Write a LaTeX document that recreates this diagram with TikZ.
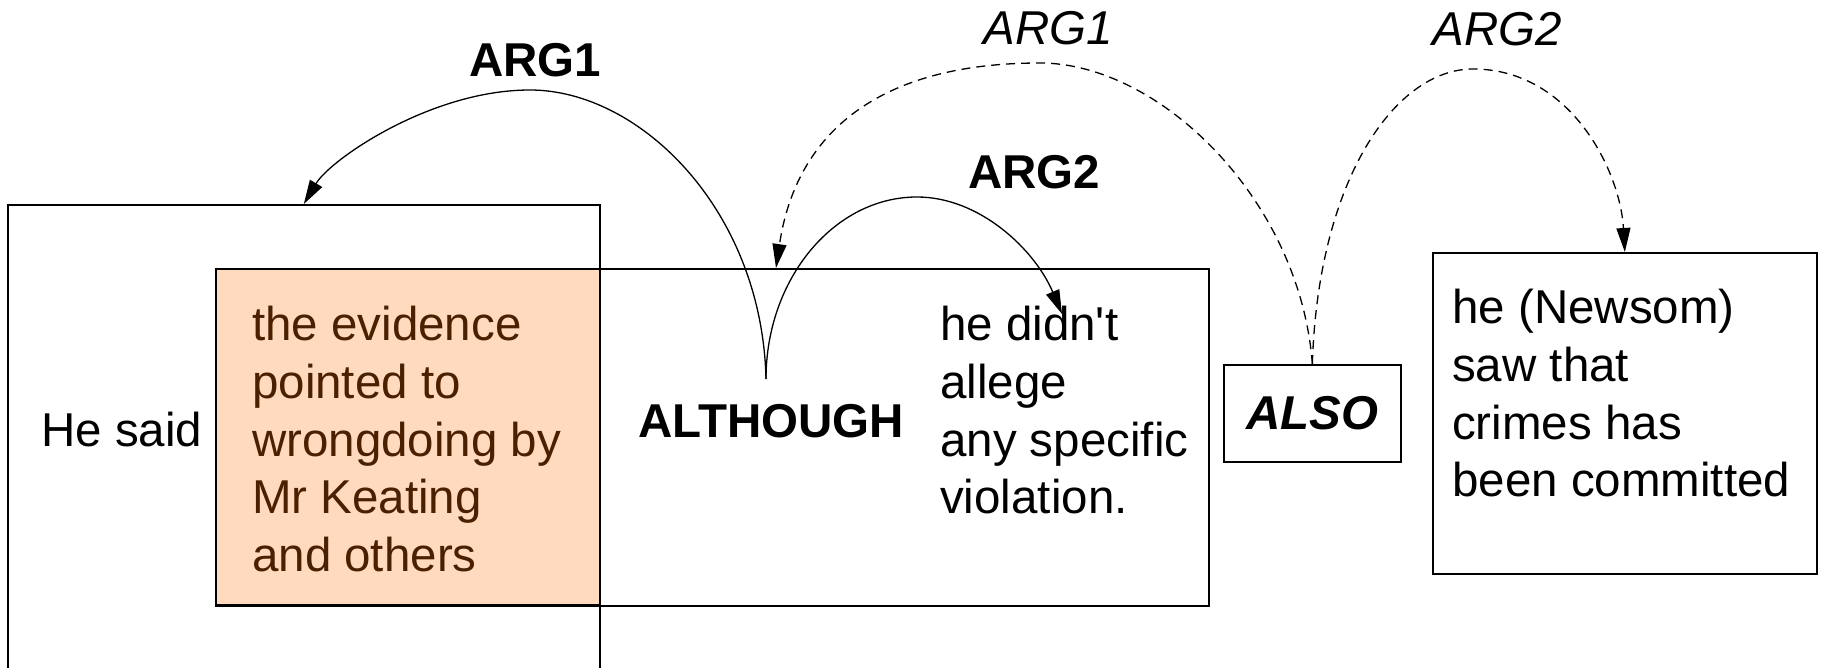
\documentclass[tikz,border=0pt]{standalone}
\usepackage{fontspec}
\setmainfont{Liberation Sans}
\usetikzlibrary{arrows.meta,calc}

\definecolor{peach}{RGB}{255,218,190}
\definecolor{brownink}{RGB}{74,32,0}

\newcommand{\bigtype}{\fontsize{47.5}{57.6}\selectfont}
\newcommand{\linestack}[1]{\begin{tabular}[t]{@{}l@{}}#1\end{tabular}}
\newcommand{\straightq}{\XeTeXglyph\XeTeXglyphindex "quotesingle"\relax}

\begin{document}
\begin{tikzpicture}[x=1pt,y=-1pt,
  every node/.style={font=\bigtype, inner sep=0pt},
  frame/.style={draw, line width=1.7pt, inner sep=0pt, anchor=north west},
  txt/.style={anchor=base west},
  lab/.style={anchor=base},
  link/.style={line width=1.3pt, -{Triangle[length=24pt,width=14pt]}},
  dlink/.style={link, dash pattern=on 9pt off 6pt}]

\useasboundingbox (0,0) rectangle (1821,668);

% clause boxes
\node[frame, minimum width=592pt, minimum height=468pt] (said) at (7,204) {};
\node[frame, minimum width=993pt, minimum height=337pt] (mid) at (215,268) {};
\node[frame, fill=peach, minimum width=384pt, minimum height=336pt] (evid) at (215,268) {};
\node[frame, minimum width=177pt, minimum height=97pt, font=\bigtype\bfseries\itshape] (also) at (1223,364) {ALSO};
\node[frame, minimum width=384pt, minimum height=321pt] (newsom) at (1432,252) {};

% clause texts
\node[txt] (saidtxt) at (41,446) {He said};
\node[txt, text=brownink] (evidtxt) at (252,341)
  {\linestack{the evidence\\pointed to\\wrongdoing by\\Mr Keating\\and others}};
\node[txt] (didnt) at (940,341)
  {\linestack{he didn\straightq t\\allege\\any specific\\violation.}};
\node[txt] (newsomtxt) at (1452,324)
  {\linestack{he (Newsom)\\saw that\\crimes has\\been committed}};

% connectives and argument labels
\node[lab, font=\bigtype\bfseries] (although) at (771,437) {ALTHOUGH};
\node[lab, font=\bigtype\bfseries] (argA) at (535,77) {ARG1};
\node[lab, font=\bigtype\bfseries] (argB) at (1034,189) {ARG2};
\node[lab, font=\bigtype\itshape] (argC) at (1048,45) {ARG1};
\node[lab, font=\bigtype\itshape] (argD) at (1497,46) {ARG2};

% attachment points
\coordinate (hub) at (766,379);
\coordinate (arg2tip) at (1062,314);
\coordinate (arg1tip) at ($(mid.north west)+(561,0)$);

% explicit connective ALTHOUGH
\draw[link] (hub) .. controls (762,210) and (640,90) .. (530,90)
  .. controls (430,90) and (330,160) .. (said.north);
\draw[link] (hub) .. controls (766,279) and (834,197) .. (917,197)
  .. controls (980,197) and (1035,250) .. (arg2tip);

% implicit connective ALSO
\draw[dlink] (also.north) .. controls (1300,200) and (1160,63) .. (1040,63)
  .. controls (870,63) and (795,140) .. (arg1tip);
\draw[dlink] (also.north) .. controls (1318,180) and (1395,69) .. (1473,69)
  .. controls (1570,69) and (1620,170) .. (newsom.north);
\end{tikzpicture}
\end{document}
